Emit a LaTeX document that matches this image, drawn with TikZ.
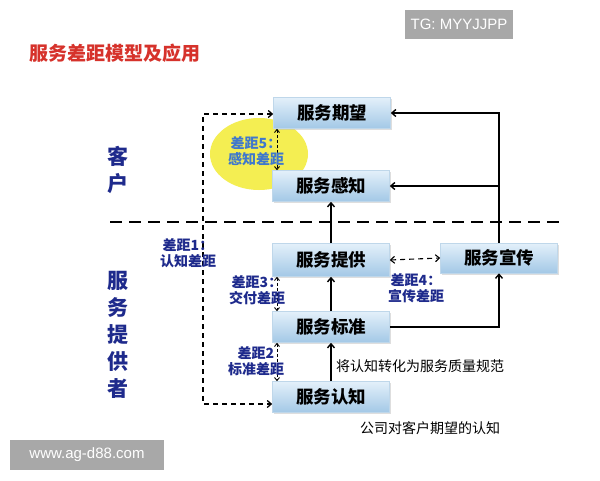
\documentclass[tikz,border=0pt]{standalone}
\usepackage{fontspec}
\setmainfont{Noto Sans CJK SC}
\newfontfamily\latinsans{Liberation Sans}
\usetikzlibrary{arrows.meta,shadows}
\definecolor{boxtop}{HTML}{E3F0FA}
\definecolor{boxbot}{HTML}{A3C8E6}
\definecolor{boxline}{HTML}{BFD7EA}
\definecolor{navy}{HTML}{1E2A8C}
\definecolor{lblue}{HTML}{3F78CC}
\definecolor{titlered}{HTML}{D6322B}
\definecolor{wmgray}{HTML}{A8A8A8}
\definecolor{yel}{HTML}{F4EE52}
\begin{document}
\begin{tikzpicture}[x=1pt,y=-1pt,
  >={Straight Barb[length=4pt,width=7pt]},
  stagebox/.style={draw=boxline, line width=0.6pt, top color=boxtop, bottom color=boxbot,
     minimum width=117pt, minimum height=31pt, inner sep=0pt,
     font=\fontsize{17.5}{20}\selectfont\bfseries,
     drop shadow={shadow xshift=1.2pt, shadow yshift=-1.5pt, fill=black!25}},
  flow/.style={line width=1.4pt, ->},
  gaparrow/.style={line width=0.9pt, densely dashed, {Straight Barb[length=3pt,width=5pt]}-{Straight Barb[length=3pt,width=5pt]}},
  looparrow/.style={line width=1.3pt, dash pattern=on 5pt off 4pt, <->},
  gaplabel/.style={font=\fontsize{14}{16.5}\selectfont\bfseries, text=navy, align=center, inner sep=0pt},
  sidelabel/.style={font=\fontsize{21}{27}\selectfont\bfseries, text=navy, align=center, inner sep=0pt},
  note/.style={font=\fontsize{14}{16}\selectfont, text=black, inner sep=0pt},
  wm/.style={fill=wmgray, text=white, font=\latinsans\fontsize{15}{17}\selectfont, inner sep=0pt}
]
\useasboundingbox (0,0) rectangle (600,480);
\fill[white] (0,0) rectangle (600,480);

% watermarks
\node[wm, minimum width=108pt, minimum height=29pt] (tgmark) at (459,24.5) {TG: MYYJJPP};
\node[wm, minimum width=154pt, minimum height=30pt] (wwwmark) at (87,455) {www.ag-d88.com};

% title
\node[font=\fontsize{19}{22}\selectfont\bfseries, text=titlered, anchor=west, inner sep=0pt] (title) at (29,53) {服务差距模型及应用};

% yellow highlight
\fill[yel] (259,154) ellipse [x radius=49, y radius=36];

% divider
\draw[line width=1.5pt, dash pattern=on 12pt off 7pt] (110,222) -- (562,222);

% side labels
\node[sidelabel] (kehu) at (118,170) {客\\户};
\node[sidelabel] (tigong) at (118,335) {服\\务\\提\\供\\者};

% boxes
\node[stagebox] (qw) at (332,113) {服务期望};
\node[stagebox] (gz) at (331,186) {服务感知};
\node[stagebox, minimum height=33pt] (tg) at (331,260) {服务提供};
\node[stagebox] (bz) at (331,327) {服务标准};
\node[stagebox] (rz) at (331,397) {服务认知};
\node[stagebox, minimum height=30pt] (xc) at (499,258) {服务宣传};

% solid flows
\draw[flow] (tg.north) -- (gz.south);
\draw[flow] (bz.north) -- (tg.south);
\draw[flow] (rz.north) -- (bz.south);
\draw[flow] (xc.north) -- (xc.north |- qw.east) -- (qw.east);
\draw[flow] (xc.north |- gz.east) -- (gz.east);
\draw[flow] (bz.east) -| (xc.south);

% dashed gaps
\coordinate (lx) at (203,0);
\draw[looparrow] ([yshift=-1pt]qw.west) -- ([yshift=-1pt]qw.west -| lx) -- ([yshift=-7pt]rz.west -| lx) -- ([yshift=-7pt]rz.west);
\draw[looparrow, line width=1.1pt] (tg.east) -- (xc.west);
\coordinate (gx) at (277,0);
\draw[gaparrow] (qw.south -| gx) -- (gz.north -| gx);
\draw[gaparrow] (tg.south -| gx) -- (bz.north -| gx);
\draw[gaparrow] (bz.south -| gx) -- (rz.north -| gx);

% gap labels
\node[gaplabel, text=lblue] (g5) at (256,151) {差距5：\\感知差距};
\node[gaplabel] (g1) at (188,253) {差距1：\\认知差距};
\node[gaplabel] (g3) at (257,290) {差距3：\\交付差距};
\node[gaplabel] (g2) at (256,361) {差距2\\标准差距};
\node[gaplabel] (g4) at (416,288) {差距4：\\宣传差距};

% notes
\node[note, anchor=west] (n1) at (336,366) {将认知转化为服务质量规范};
\node[note, anchor=west] (n2) at (360,428) {公司对客户期望的认知};
\end{tikzpicture}
\end{document}
